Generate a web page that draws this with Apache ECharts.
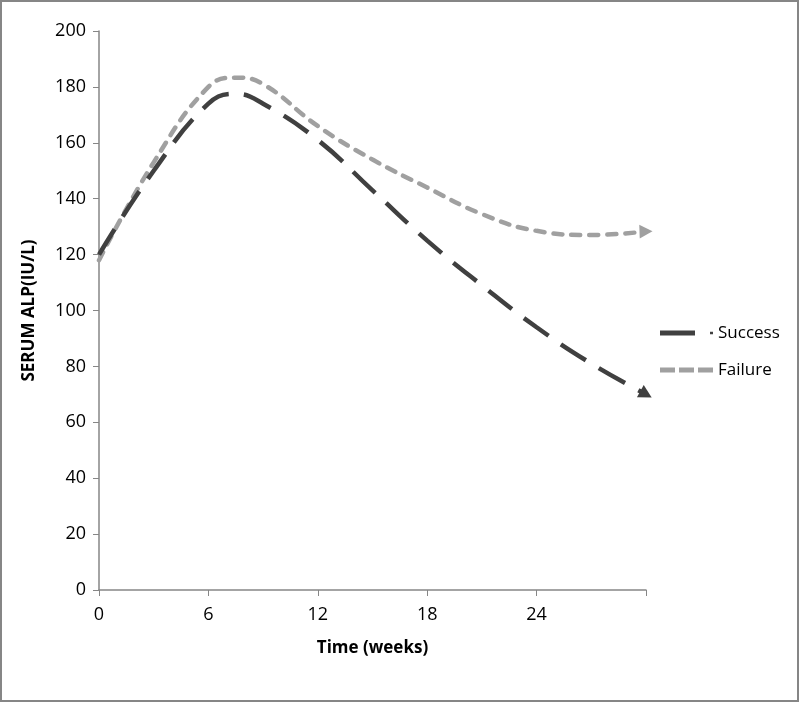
<!DOCTYPE html>
<html><head><meta charset="utf-8">
<script src="https://cdn.jsdelivr.net/npm/echarts@6/dist/echarts.min.js"></script>
<style>html,body{margin:0;padding:0;background:#fff}#c{width:800px;height:703px}</style>
</head><body><div id="c"></div>
<script>
const weeks = [0, 3, 6, 7.5, 9, 12, 15, 18, 21, 24, 27, 30];
const success = [120, 150, 174, 177.5, 174, 161, 143, 125, 109, 94, 81, 70];
const failure = [118, 153, 180, 183.3, 181, 166, 154, 144, 134.5, 128.5, 127, 128.3];
const xTicks = [0, 6, 12, 18, 24];
const yTicks = [0, 20, 40, 60, 80, 100, 120, 140, 160, 180, 200];
const seriesNames = ['Success', 'Failure'];

function build(vals, arrowRot) {
  return weeks.map((w, i) => {
    if (i === weeks.length - 1) {
      return { value: [w, vals[i]], symbol: 'triangle', symbolSize: [14, 13], symbolRotate: arrowRot };
    }
    return { value: [w, vals[i]], symbol: 'none' };
  });
}

const chart = echarts.init(document.getElementById('c'), null, { renderer: 'canvas' });
const font = '"Open Sans", "Noto Sans", sans-serif';
chart.setOption({
  animation: false,
  backgroundColor: '#fff',
  textStyle: { fontFamily: font },
  grid: { left: 99, right: 154, top: 31, bottom: 113 },
  graphic: [{
    type: 'rect', shape: { x: 1, y: 1, width: 797, height: 700 },
    style: { fill: 'none', stroke: '#868686', lineWidth: 2 }, silent: true
  }],
  legend: {
    orient: 'vertical', left: 660, top: 321, padding: 0, itemGap: 13, itemWidth: 53, itemHeight: 5,
    data: [
      { name: seriesNames[0], icon: 'path://M0,0h35v5h-35Z M50,1.2h3v2.6h-3Z' },
      { name: seriesNames[1], icon: 'path://M0,0h15v5h-15Z M19,0h15v5h-15Z M38,0h15v5h-15Z' }
    ],
    textStyle: { fontSize: 17, color: '#000', fontFamily: font, lineHeight: 24 }
  },
  xAxis: {
    type: 'value', min: 0, max: 30, interval: 6,
    name: 'Time (weeks)', nameLocation: 'middle', nameGap: 50,
    nameTextStyle: { fontSize: 17, fontWeight: 'bold', color: '#000', fontFamily: font },
    axisLine: { lineStyle: { color: '#868686', width: 1.5 } },
    axisTick: { show: true, length: 6, lineStyle: { color: '#868686' } },
    axisLabel: { fontSize: 18, color: '#000', margin: 16, fontFamily: font,
      formatter: v => (xTicks.indexOf(v) >= 0 ? String(v) : '') },
    splitLine: { show: false }
  },
  yAxis: {
    type: 'value', min: 0, max: 200, interval: 20,
    name: 'SERUM ALP(IU/L)', nameLocation: 'middle', nameGap: 61, nameRotate: 90,
    nameTextStyle: { fontSize: 17, fontWeight: 'bold', color: '#000', fontFamily: font },
    axisLine: { show: true, lineStyle: { color: '#868686', width: 1.5 } },
    axisTick: { show: true, length: 6, lineStyle: { color: '#868686' } },
    axisLabel: { fontSize: 18, color: '#000', margin: 13, fontFamily: font,
      formatter: v => (yTicks.indexOf(v) >= 0 ? String(v) : '') },
    splitLine: { show: false }
  },
  series: [
    {
      name: seriesNames[0], type: 'line', smooth: 0.45, showSymbol: true,
      data: build(success, -119),
      itemStyle: { color: '#404040' },
      lineStyle: { color: '#404040', width: 4.5, type: [30, 15], cap: 'butt' },
      z: 3
    },
    {
      name: seriesNames[1], type: 'line', smooth: 0.45, showSymbol: true,
      data: build(failure, -88),
      itemStyle: { color: '#a0a0a0' },
      lineStyle: { color: '#a0a0a0', width: 4.5, type: [9, 9], cap: 'round' },
      z: 2
    }
  ]
});
</script></body></html>
